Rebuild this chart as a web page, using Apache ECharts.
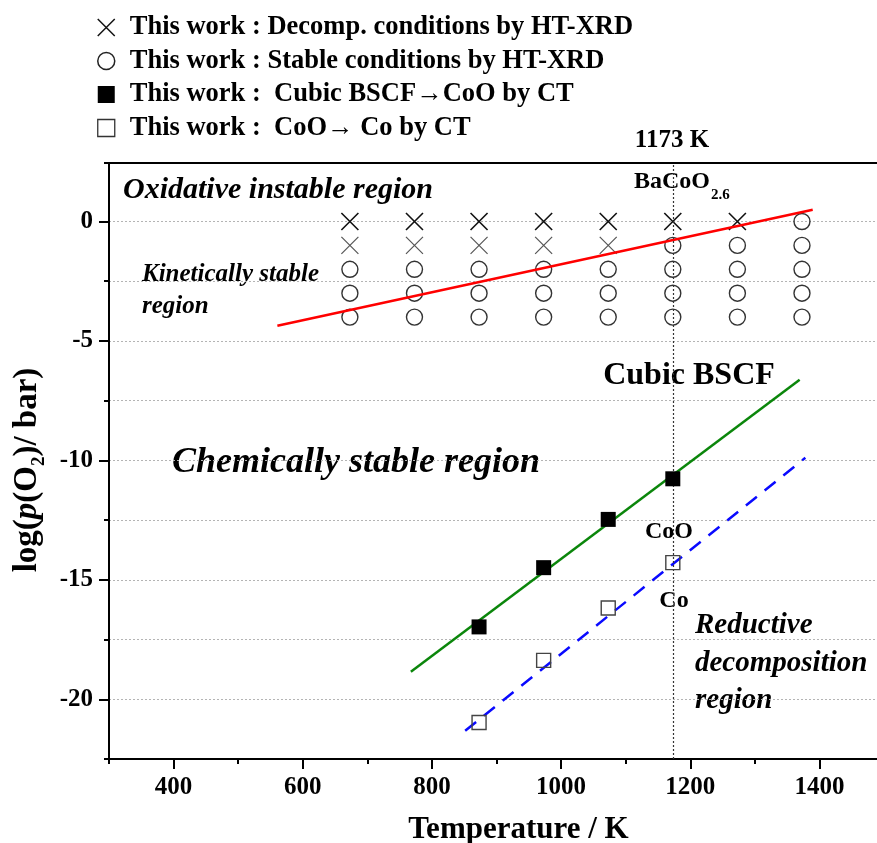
<!DOCTYPE html>
<html>
<head>
<meta charset="utf-8">
<script src="https://cdn.jsdelivr.net/npm/echarts@6/dist/echarts.min.js"></script>
<style>
html,body{margin:0;padding:0;background:#fff;}
#chart{width:877px;height:843px;}
</style>
</head>
<body>
<div id="chart"></div>
<script>
// ---------- data ----------
const decompT    = [673, 773, 873, 973, 1073, 1173, 1273, 673, 773, 873, 973, 1073];
const decompLogP = [0, 0, 0, 0, 0, 0, 0, -1, -1, -1, -1, -1];

const stableT    = [1373, 1173, 1273, 1373,
                    673, 773, 873, 973, 1073, 1173, 1273, 1373,
                    673, 773, 873, 973, 1073, 1173, 1273, 1373,
                    673, 773, 873, 973, 1073, 1173, 1273, 1373];
const stableLogP = [0, -1, -1, -1,
                    -2, -2, -2, -2, -2, -2, -2, -2,
                    -3, -3, -3, -3, -3, -3, -3, -3,
                    -4, -4, -4, -4, -4, -4, -4, -4];

const cubicT    = [873, 973, 1073, 1173];
const cubicLogP = [-16.97, -14.49, -12.47, -10.77];

const cooT    = [873, 973, 1073, 1173];
const cooLogP = [-20.97, -18.37, -16.18, -14.28];

const redLineT    = [560.7, 1389.6];
const redLineLogP = [-4.36, 0.49];
const greenLineT    = [767.4, 1369.4];
const greenLineLogP = [-18.85, -6.62];
const blueLineT    = [851.5, 1378.2];
const blueLineLogP = [-21.32, -9.89];

const markT = 1173;

const xMajorTicks = [400, 600, 800, 1000, 1200, 1400];
const yMajorTicks = [-20, -15, -10, -5, 0];

const legendNames = [
  'This work : Decomp. conditions by HT-XRD',
  'This work : Stable conditions by HT-XRD',
  'This work :  Cubic BSCF\u2192CoO by CT',
  'This work :  CoO\u2192 Co by CT'
];

// ---------- helpers ----------
const zip = (a, b) => a.map((v, i) => [v, b[i]]);
const FONT = 'Liberation Serif';
const X_PATH = 'path://M0,0L10,10M10,0L0,10';

const chart = echarts.init(document.getElementById('chart'), null, {renderer: 'canvas'});

const boldTxt = (size, extra) => Object.assign({fontFamily: FONT, fontWeight: 'bold', fontSize: size, color: '#000'}, extra || {});
const txt = (x, y, text, font, align) => ({
  type: 'text', x: x, y: y,
  style: {text: text, font: font, fill: '#000', align: align || 'left', verticalAlign: 'middle'}
});

// the lower row of crosses is printed lighter in the original
const decompData = zip(decompT, decompLogP).map(p => (p[1] < 0
  ? {value: p, itemStyle: {borderColor: '#555', borderWidth: 1.2}}
  : {value: p}));

const option = {
  animation: false,
  backgroundColor: '#fff',
  legend: {
    orient: 'vertical',
    left: 92,
    top: 9,
    itemGap: 6.5,
    itemWidth: 17,
    itemHeight: 17,
    selectedMode: false,
    textStyle: boldTxt(26.5, {padding: [0, 0, 0, 10]}),
    data: [
      {name: legendNames[0], icon: X_PATH, itemStyle: {color: 'rgba(0,0,0,0)', borderColor: '#111', borderWidth: 1.5, opacity: 1}},
      {name: legendNames[1], icon: 'circle', itemStyle: {color: 'rgba(0,0,0,0)', borderColor: '#222', borderWidth: 1.5, opacity: 1}},
      {name: legendNames[2], icon: 'rect', itemStyle: {color: '#000', opacity: 1}},
      {name: legendNames[3], icon: 'rect', itemStyle: {color: 'rgba(0,0,0,0)', borderColor: '#333', borderWidth: 1.3, opacity: 1}}
    ]
  },
  grid: {
    left: 109, top: 163, width: 775, height: 596,
    outerBoundsMode: 'none', containLabel: false,
    show: true, borderColor: '#000', borderWidth: 2, backgroundColor: 'rgba(0,0,0,0)'
  },
  xAxis: [
    {
      type: 'value', min: 300, max: 1500, interval: 100,
      axisLine: {show: true, onZero: false, lineStyle: {color: '#000', width: 2}},
      axisTick: {show: true, length: 5, lineStyle: {color: '#000', width: 2}},
      axisLabel: {
        formatter: v => (xMajorTicks.indexOf(v) >= 0 ? String(v) : ''),
        fontFamily: FONT, fontWeight: 'bold', fontSize: 25, color: '#000', margin: 16
      },
      splitLine: {show: false},
      name: 'Temperature / K', nameLocation: 'middle', nameGap: 55,
      nameTextStyle: boldTxt(31, {padding: [0, 0, 0, 44]})
    },
    {
      type: 'value', min: 300, max: 1500, position: 'bottom',
      axisLine: {show: false, onZero: false},
      axisTick: {show: true, customValues: xMajorTicks, length: 10, lineStyle: {color: '#000', width: 2}},
      axisLabel: {show: false},
      splitLine: {show: false}
    }
  ],
  yAxis: [
    {
      type: 'value', min: -22.5, max: 2.45, interval: 2.5,
      axisLine: {show: true, onZero: false, lineStyle: {color: '#000', width: 2}},
      axisTick: {show: true, length: 5, lineStyle: {color: '#000', width: 2}},
      axisLabel: {
        formatter: v => (yMajorTicks.indexOf(v) >= 0 ? String(v) : ''),
        fontFamily: FONT, fontWeight: 'bold', fontSize: 25, color: '#000', margin: 16
      },
      splitLine: {show: true, showMaxLine: false, showMinLine: false, lineStyle: {color: '#b4b4b4', width: 1, type: [2, 2]}},
      name: '{a|log(}{i|p}{a|(O}{s|2}{a|)/ bar)}',
      nameLocation: 'middle', nameGap: 62,
      nameTextStyle: {
        fontFamily: FONT, fontWeight: 'bold', fontSize: 33, color: '#000',
        padding: [0, 18, 0, 0],
        rich: {
          a: {fontFamily: FONT, fontWeight: 'bold', fontSize: 33, lineHeight: 34, verticalAlign: 'top', color: '#000'},
          i: {fontFamily: FONT, fontWeight: 'bold', fontStyle: 'italic', fontSize: 33, lineHeight: 34, verticalAlign: 'top', color: '#000'},
          s: {fontFamily: FONT, fontWeight: 'bold', fontSize: 19, lineHeight: 19, padding: [19, 0, 0, 0], verticalAlign: 'top', color: '#000'}
        }
      }
    },
    {
      type: 'value', min: -22.5, max: 2.45, position: 'left',
      axisLine: {show: false, onZero: false},
      axisTick: {show: true, customValues: yMajorTicks, length: 10, lineStyle: {color: '#000', width: 2}},
      axisLabel: {show: false},
      splitLine: {show: false}
    }
  ],
  series: [
    {
      name: legendNames[0], type: 'scatter', silent: true,
      symbol: X_PATH, symbolSize: 17,
      itemStyle: {color: 'rgba(0,0,0,0)', borderColor: '#111', borderWidth: 1.6, opacity: 1},
      data: decompData, z: 3
    },
    {
      name: legendNames[1], type: 'scatter', silent: true,
      symbol: 'circle', symbolSize: 16,
      itemStyle: {color: 'rgba(0,0,0,0)', borderColor: '#333', borderWidth: 1.4, opacity: 1},
      data: zip(stableT, stableLogP), z: 3
    },
    {
      name: 'redLine', type: 'line', silent: true, showSymbol: false, symbol: 'none',
      lineStyle: {color: '#ff0000', width: 2.5},
      data: zip(redLineT, redLineLogP), z: 4
    },
    {
      name: 'greenLine', type: 'line', silent: true, showSymbol: false, symbol: 'none',
      lineStyle: {color: '#0b860b', width: 2.5},
      data: zip(greenLineT, greenLineLogP), z: 4,
      markLine: {
        silent: true, symbol: ['none', 'none'], label: {show: false},
        lineStyle: {color: '#333', width: 1.2, type: [2, 2]},
        data: [{xAxis: markT}]
      }
    },
    {
      name: 'blueLine', type: 'line', silent: true, showSymbol: false, symbol: 'none',
      lineStyle: {color: '#0a0aff', width: 2.5, type: [14, 10]},
      data: zip(blueLineT, blueLineLogP), z: 4
    },
    {
      name: legendNames[2], type: 'scatter', silent: true,
      symbol: 'rect', symbolSize: 15,
      itemStyle: {color: '#000', opacity: 1},
      data: zip(cubicT, cubicLogP), z: 5
    },
    {
      name: legendNames[3], type: 'scatter', silent: true,
      symbol: 'rect', symbolSize: 14,
      itemStyle: {color: 'rgba(0,0,0,0)', borderColor: '#444', borderWidth: 1.4, opacity: 1},
      data: zip(cooT, cooLogP), z: 5
    }
  ],
  graphic: [
    txt(672, 141, '1173 K', 'bold 25px "Liberation Serif"', 'center'),
    txt(710, 182, 'BaCoO', 'bold 24px "Liberation Serif"', 'right'),
    txt(711, 195, '2.6', 'bold 15px "Liberation Serif"', 'left'),
    txt(123, 190, 'Oxidative instable region', 'italic bold 30px "Liberation Serif"'),
    txt(142, 275, 'Kinetically stable', 'italic bold 25px "Liberation Serif"'),
    txt(142, 307, 'region', 'italic bold 25px "Liberation Serif"'),
    txt(172, 463, 'Chemically stable region', 'italic bold 36px "Liberation Serif"'),
    txt(689, 376, 'Cubic BSCF', 'bold 32px "Liberation Serif"', 'center'),
    txt(669, 532, 'CoO', 'bold 24px "Liberation Serif"', 'center'),
    txt(674, 601, 'Co', 'bold 24px "Liberation Serif"', 'center'),
    txt(695, 626, 'Reductive', 'italic bold 29px "Liberation Serif"'),
    txt(695, 664, 'decomposition', 'italic bold 29px "Liberation Serif"'),
    txt(695, 701, 'region', 'italic bold 29px "Liberation Serif"')
  ]
};
chart.setOption(option);
</script>
</body>
</html>
